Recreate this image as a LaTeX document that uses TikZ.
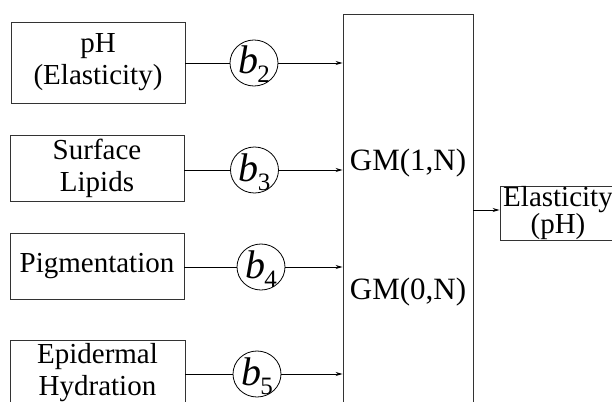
\documentclass[tikz,border=0pt]{standalone}
\usepackage{fontspec}
\setmainfont{Liberation Serif}
\usetikzlibrary{arrows.meta,shapes.geometric}
\newcommand{\bsub}[1]{\smash{\raisebox{-11pt}{\fontsize{40}{40}\selectfont\itshape b\kern-1pt\raisebox{-9pt}{\fontsize{25}{25}\selectfont\upshape #1}}}}
\begin{document}
\begin{tikzpicture}[x=1pt,y=-1pt,
  box/.style={draw=black!80,line width=0.9pt,inner sep=0pt,align=center,
    font=\fontsize{29}{32}\selectfont},
  bell/.style={draw=black,line width=0.8pt,ellipse,inner sep=0pt,
    minimum width=48pt,minimum height=46pt},
  conn/.style={line width=0.8pt,black},
  arr/.style={conn,-{Stealth[length=7pt,width=4pt]}}]
\useasboundingbox (0,0) rectangle (612,401);
\clip (0,0) rectangle (612,401);
\node[box,minimum width=174pt,minimum height=81pt] (b1) at (98,62.5) {pH\\(Elasticity)};
\node[box,minimum width=174pt,minimum height=66pt] (b2) at (97,168.5) {Surface\\Lipids};
\node[box,minimum width=174pt,minimum height=66pt] (b3) at (97,266) {Pigmentation};
\node[box,minimum width=175pt,minimum height=66pt] (b4) at (97.5,373) {Epidermal\\Hydration};
\node[box,minimum width=130pt,minimum height=406pt] (big) at (408,217) {};
\node[font=\fontsize{31}{31}\selectfont] (gm1) at (408,163) {GM(1,N)};
\node[font=\fontsize{31}{31}\selectfont] (gm0) at (408,292) {GM(0,N)};
\node[box,minimum width=116pt,minimum height=51pt,font=\fontsize{29}{27}\selectfont] (outb) at (558,213.5) {Elasticity\\(pH)};
\node[bell] (c2) at (254,63) {\bsub{2}};
\node[bell] (c3) at (254.5,170) {\bsub{3}};
\node[bell] (c4) at (261,267) {\bsub{4}};
\node[bell] (c5) at (257,374) {\bsub{5}};
\coordinate (oin) at ([yshift=3.5pt]outb.west);
\draw[conn] (b1.east |- c2) -- (c2);
\draw[arr] (c2) -- (big.west |- c2);
\draw[conn] (b2.east |- c3) -- (c3);
\draw[arr] (c3) -- (big.west |- c3);
\draw[conn] (b3.east |- c4) -- (c4);
\draw[arr] (c4) -- (big.west |- c4);
\draw[conn] (b4.east |- c5) -- (c5);
\draw[arr] (c5) -- (big.west |- c5);
\draw[arr] (big.east |- oin) -- (oin);
\end{tikzpicture}
\end{document}
